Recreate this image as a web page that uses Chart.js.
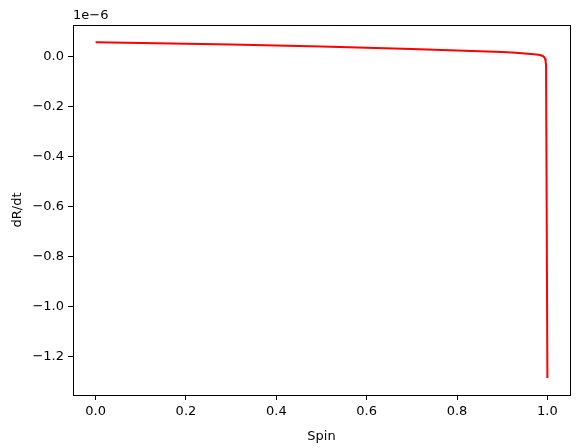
<!DOCTYPE html>
<html>
<head>
<meta charset="utf-8">
<script src="https://cdn.jsdelivr.net/npm/chart.js@4.4.0/dist/chart.umd.min.js"></script>
<style>
  html, body { margin: 0; padding: 0; background: #fff; }
  #wrap { width: 579px; height: 448px; }
</style>
</head>
<body>
<div id="wrap"><canvas id="grafico" width="579" height="448"></canvas></div>
<script>
// spin values and dR/dt (in units of 1e-6)
const spin = [0, 0.1, 0.2, 0.3, 0.4, 0.5, 0.6, 0.7, 0.8, 0.85, 0.9, 0.93, 0.95, 0.97, 0.98, 0.985, 0.99, 0.993, 0.995, 0.996, 0.997, 1.0];
const dRdt = [0.058, 0.055, 0.052, 0.049, 0.045, 0.041, 0.036, 0.031, 0.025, 0.022, 0.019, 0.016, 0.013, 0.010, 0.008, 0.006, 0.003, -0.002, -0.009, -0.018, -0.035, -1.285];
const xTicks = [0, 0.2, 0.4, 0.6, 0.8, 1.0];
const yTicks = [-1.2, -1.0, -0.8, -0.6, -0.4, -0.2, 0.0];
const offsetText = '1e\u22126';

const fuente = 'DejaVu Sans';

function etiqueta(v) {
  const s = Math.abs(v).toFixed(1);
  return v < -1e-9 ? '\u2212' + s : s;
}

const marco = {
  id: 'marco',
  afterDraw(chart) {
    const { ctx, chartArea: a } = chart;
    ctx.save();
    ctx.strokeStyle = '#000';
    ctx.lineWidth = 1;
    ctx.strokeRect(Math.round(a.left) + 0.5, Math.round(a.top) + 0.5, Math.round(a.right - a.left), Math.round(a.bottom - a.top));
    ctx.fillStyle = '#000';
    ctx.font = '13px "' + fuente + '"';
    ctx.textAlign = 'left';
    ctx.textBaseline = 'bottom';
    ctx.fillText(offsetText, a.left, a.top - 3);
    ctx.restore();
  }
};

const puntos = spin.map((x, i) => ({ x: x, y: dRdt[i] }));

new Chart(document.getElementById('grafico').getContext('2d'), {
  type: 'line',
  data: {
    datasets: [{
      data: puntos,
      borderColor: '#ff0000',
      borderWidth: 2,
      pointRadius: 0,
      fill: false,
      tension: 0,
      borderJoinStyle: 'round'
    }]
  },
  options: {
    responsive: false,
    animation: false,
    layout: { padding: { top: 25, right: 9, left: 0, bottom: 0 } },
    plugins: {
      legend: { display: false },
      tooltip: { enabled: false }
    },
    scales: {
      x: {
        type: 'linear',
        min: -0.05,
        max: 1.05,
        afterBuildTicks: axis => { axis.ticks = xTicks.map(v => ({ value: v })); },
        afterFit: axis => { axis.height = 53; },
        grid: { display: true, drawOnChartArea: false, drawTicks: true, tickLength: 5, color: '#000' },
        border: { display: true, color: '#000' },
        ticks: {
          color: '#000',
          padding: 4,
          maxRotation: 0,
          font: { family: fuente, size: 13 },
          callback: v => etiqueta(v)
        },
        title: {
          display: true,
          text: 'Spin',
          color: '#000',
          padding: { top: 4, bottom: 4 },
          font: { family: fuente, size: 13 }
        }
      },
      y: {
        type: 'linear',
        min: -1.353,
        max: 0.127,
        afterBuildTicks: axis => { axis.ticks = yTicks.map(v => ({ value: v })); },
        afterFit: axis => { axis.width = 73; },
        grid: { display: true, drawOnChartArea: false, drawTicks: true, tickLength: 5, color: '#000' },
        border: { display: true, color: '#000' },
        ticks: {
          color: '#000',
          padding: 4,
          font: { family: fuente, size: 13 },
          callback: v => etiqueta(v)
        },
        title: {
          display: true,
          text: 'dR/dt',
          color: '#000',
          padding: { top: 10, bottom: 4 },
          font: { family: fuente, size: 13 }
        }
      }
    }
  },
  plugins: [marco]
});
</script>
</body>
</html>
